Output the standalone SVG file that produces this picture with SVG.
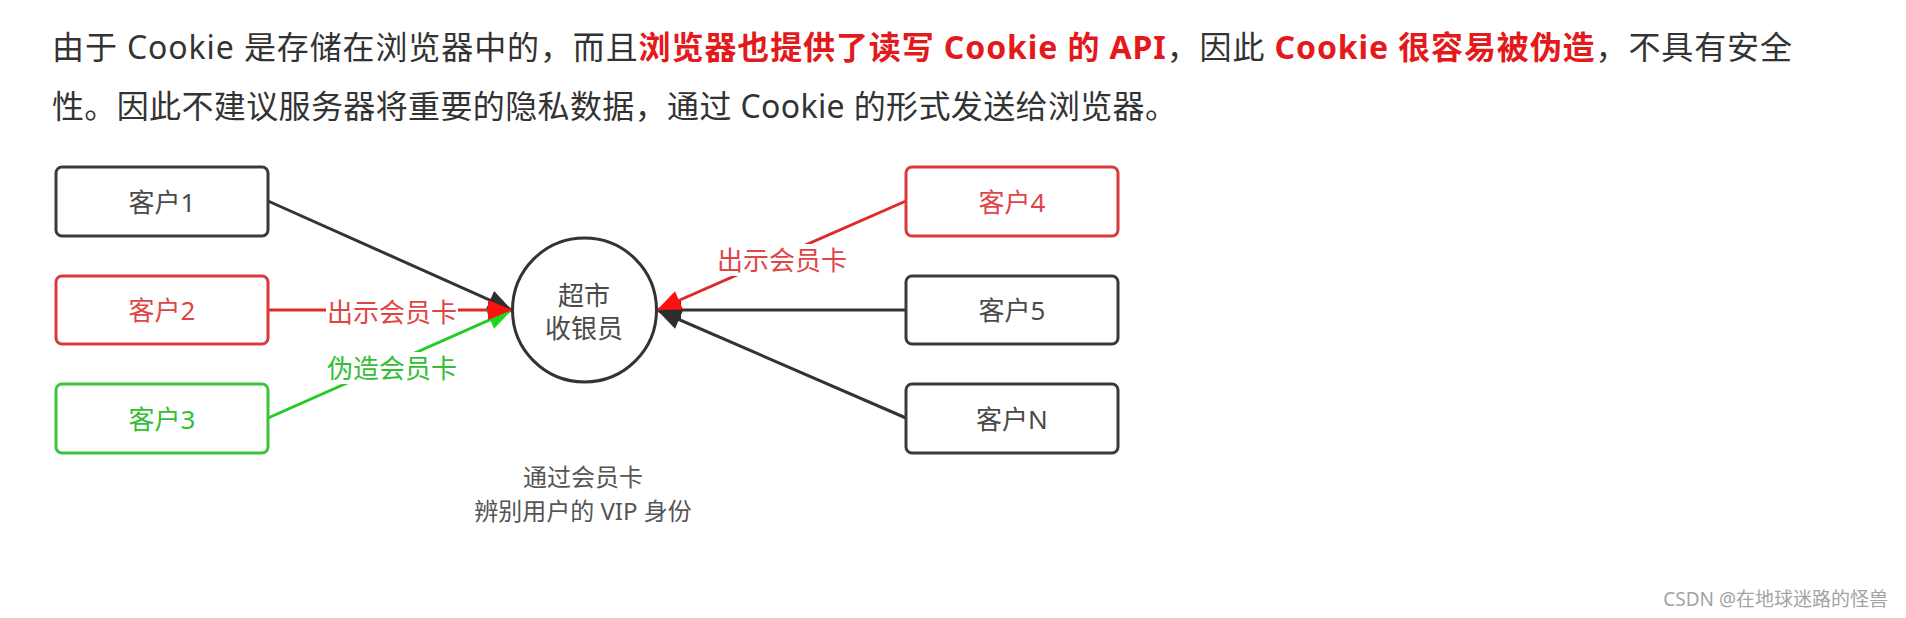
<svg xmlns="http://www.w3.org/2000/svg" width="1906" height="618" viewBox="0 0 1906 618">
<style>
text{font-family:"Noto Sans","Noto Sans CJK SC",sans-serif}
.p{font-size:32px;fill:#333}
.r{fill:#e3191c;font-weight:bold}
.box{fill:#fff;stroke-width:3}
.bk{stroke:#3a3a3a}
.rd{stroke:#d93a3a}
.gn{stroke:#3cc43c}
.lbl{font-size:26px;text-anchor:middle}
.t-bk{fill:#4a4a4a}
.t-rd{fill:#e04545}
.t-gn{fill:#36bd36}
.ln{fill:none;stroke-width:3}
.note{font-size:24px;fill:#555;text-anchor:middle}
</style>
<defs>
<marker id="ab" markerUnits="userSpaceOnUse" markerWidth="26" markerHeight="22" refX="24" refY="10" orient="auto" overflow="visible"><path d="M0,0 L24,10 L0,20 Z" fill="#2e2e2e"/></marker>
<marker id="ar" markerUnits="userSpaceOnUse" markerWidth="26" markerHeight="22" refX="24" refY="10" orient="auto" overflow="visible"><path d="M0,0 L24,10 L0,20 Z" fill="#ff1010"/></marker>
<marker id="ag" markerUnits="userSpaceOnUse" markerWidth="26" markerHeight="22" refX="24" refY="10" orient="auto" overflow="visible"><path d="M0,0 L24,10 L0,20 Z" fill="#1ed81e"/></marker>
</defs>
<rect width="1906" height="618" fill="#fff"/>
<g id="intro">
<text class="p" x="52" y="59" textLength="1740" lengthAdjust="spacing">由于 Cookie 是存储在浏览器中的，而且<tspan class="r">浏览器也提供了读写 Cookie 的 API</tspan>，因此 <tspan class="r">Cookie 很容易被伪造</tspan>，不具有安全</text>
<text class="p" x="52" y="118" textLength="1125" lengthAdjust="spacing">性。因此不建议服务器将重要的隐私数据，通过 Cookie 的形式发送给浏览器。</text>
</g>
<g id="connectors">
<path class="ln" d="M268,201 L512,310" stroke="#333" marker-end="url(#ab)"/>
<path class="ln" d="M906,310 L657,310" stroke="#333" marker-end="url(#ab)"/>
<path class="ln" d="M906,418 L657,310" stroke="#333" marker-end="url(#ab)"/>
<path class="ln" d="M268,418 L512,310" stroke="#22cc22" marker-end="url(#ag)"/>
<path class="ln" d="M268,310 L512,310" stroke="#dd2a2a" marker-end="url(#ar)"/>
<path class="ln" d="M906,201 L657,310" stroke="#dd2a2a" marker-end="url(#ar)"/>
<g id="label-c2">
<rect x="326" y="296" width="132" height="30" fill="#fff"/>
<text class="lbl t-rd" x="392" y="322">出示会员卡</text>
</g>
<g id="label-c3">
<rect x="326" y="352" width="132" height="32" fill="#fff"/>
<text class="lbl t-gn" x="392" y="378">伪造会员卡</text>
</g>
<g id="label-c4">
<rect x="716" y="244" width="132" height="32" fill="#fff"/>
<text class="lbl t-rd" x="782" y="270">出示会员卡</text>
</g>
</g>
<g id="c1"><rect class="box bk" x="56" y="167" width="212" height="69" rx="6"/><text class="lbl t-bk" x="162" y="212">客户1</text></g>
<g id="c2"><rect class="box rd" x="56" y="276" width="212" height="68" rx="6"/><text class="lbl t-rd" x="162" y="320">客户2</text></g>
<g id="c3"><rect class="box gn" x="56" y="384" width="212" height="69" rx="6"/><text class="lbl t-gn" x="162" y="429">客户3</text></g>
<g id="c4"><rect class="box rd" x="906" y="167" width="212" height="69" rx="6"/><text class="lbl t-rd" x="1012" y="212">客户4</text></g>
<g id="c5"><rect class="box bk" x="906" y="276" width="212" height="68" rx="6"/><text class="lbl t-bk" x="1012" y="320">客户5</text></g>
<g id="cn"><rect class="box bk" x="906" y="384" width="212" height="69" rx="6"/><text class="lbl t-bk" x="1012" y="429">客户N</text></g>
<g id="cashier"><circle cx="584.5" cy="310" r="72" fill="#fff" stroke="#333" stroke-width="3"/><text class="lbl t-bk" x="584" y="305">超市</text><text class="lbl t-bk" x="584" y="338">收银员</text></g>
<g id="note"><text class="note" x="583" y="486">通过会员卡</text><text class="note" x="583" y="520">辨别用户的 VIP 身份</text></g>
<text id="watermark" x="1888" y="606" style="font-size:19px;fill:#a3a3a3;text-anchor:end">CSDN @在地球迷路的怪兽</text>
</svg>
